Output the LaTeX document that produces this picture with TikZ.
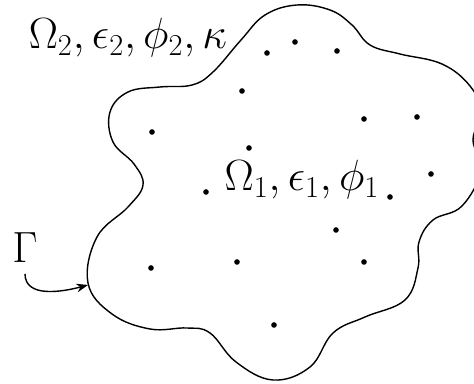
\documentclass[tikz,border=0pt]{standalone}
\usepackage{amsmath}
\usepackage{tikz}
\usetikzlibrary{arrows.meta,positioning,calc}

\begin{document}
\begin{tikzpicture}[
  x=0.02cm,y=-0.02cm,
  >=Stealth,
  label/.style={inner sep=0pt,font=\fontsize{23.5}{28}\selectfont},
  boundary/.style={line width=0.8pt,line join=round},
  point/.style={fill=black},
  line/.style={->,line width=0.8pt}
]
\useasboundingbox (0,0) rectangle (474,384);
\clip (0,0) rectangle (474,384);

% ---- interface gamma (closed curve) ----
\draw[boundary] plot[smooth cycle,tension=0.66] coordinates {
  (241,40) (265,15) (297,5) (330,10) (352,25) (370,45) (400,54) (442,64) (470,86)
  (481,112) (473,140) (481,170) (462,206) (433,220) (419,242) (418,268)
  (405,300) (365,317) (333,333) (310,367) (273,380) (236,362) (210,333)
  (187,328) (150,329) (112,314) (88,283) (97,237) (128,207) (143,185)
  (134,164) (113,142) (110,112) (128,92) (160,87) (192,85) (213,72)};

% ---- interior points ----
\foreach \px/\py in {295/42,267/53,337/51,242/91,364/119,417/117,152/132,
  249/148,431/174,206/192,390/197,336/230,151/268,237/262,364/262,274/325}
  \fill[point] (\px,\py) circle (1.6pt);

% ---- labels ----
\node[label] (outer) at (128,38) {$\Omega_2,\epsilon_2,\phi_2,\kappa$};
\node[label] (inner) at (302,180) {$\Omega_1,\epsilon_1,\phi_1$};
\node[label] (gam) at (25,248) {$\Gamma$};

% ---- pointer to the interface ----
\coordinate (gtip) at (88,285);
\draw[line] ([yshift=-6pt]gam.south) to[out=-90,in=195] (gtip);

\end{tikzpicture}
\end{document}
